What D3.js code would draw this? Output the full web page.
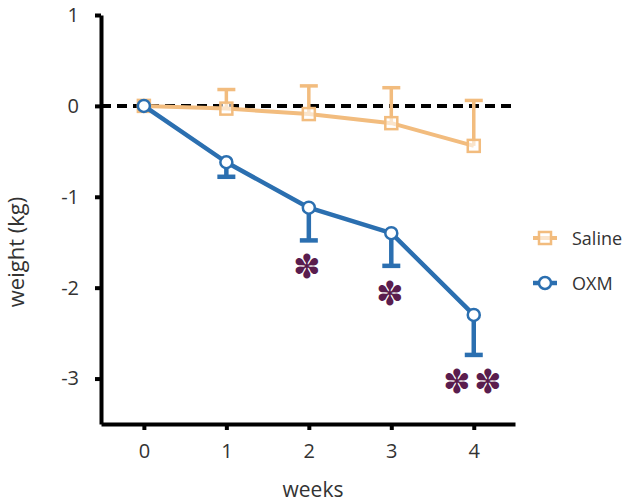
<!DOCTYPE html>
<html>
<head>
<meta charset="utf-8">
<script src="https://cdn.jsdelivr.net/npm/d3@7"></script>
<style>
  body { margin: 0; background: #fff; }
  text { font-family: "Open Sans", Lato, sans-serif; fill: #333; }
</style>
</head>
<body>
<div id="chart"></div>
<script>
  var weeks = [0, 1, 2, 3, 4];
  var salineMean = [0, -0.03, -0.09, -0.19, -0.44];
  var salineErr = [0, 0.21, 0.31, 0.39, 0.50];
  var oxmMean = [0, -0.62, -1.12, -1.40, -2.30];
  var oxmErr = [0, 0.16, 0.36, 0.36, 0.44];
  var yTicks = [1, 0, -1, -2, -3];
  var stars = [[2, '✽'], [3, '✽'], [4, '✽✽']];
  var starY = [-1.89, -2.19, -3.16];

  var width = 630, height = 503;
  var salineColor = '#f2bc7e', oxmColor = '#2b6fb0', starColor = '#5a1d4e';

  var x = d3.scaleLinear().domain([-0.52, 4.5]).range([101, 515]);
  var y = d3.scaleLinear().domain([-3.5, 1]).range([424, 15]);
  var fmt = function(d) { return String(d); };

  var svg = d3.select('#chart').append('svg').attr('width', width).attr('height', height);

  // dashed zero line
  svg.append('line').attr('x1', x(-0.52)).attr('x2', x(4.5)).attr('y1', y(0)).attr('y2', y(0))
    .attr('stroke', '#000').attr('stroke-width', 4).attr('stroke-dasharray', '10,6');

  // axes
  svg.append('g').attr('transform', 'translate(' + x(-0.52) + ',0)')
    .call(d3.axisLeft(y).tickValues(yTicks).tickSize(6).tickSizeOuter(0).tickPadding(16).tickFormat(fmt));
  svg.append('g').attr('transform', 'translate(0,' + y(-3.5) + ')')
    .call(d3.axisBottom(x).tickValues(weeks).tickSize(6).tickSizeOuter(0).tickPadding(14).tickFormat(fmt));
  svg.selectAll('.domain, .tick line').attr('stroke', '#000').attr('stroke-width', 4);
  svg.selectAll('.tick text').attr('font-size', 20).attr('font-family', '"Open Sans", sans-serif').attr('fill', '#333');

  svg.append('text').attr('x', 313).attr('y', 497).attr('text-anchor', 'middle').attr('font-size', 21).text('weeks');
  svg.append('text').attr('transform', 'translate(24,252) rotate(-90)').attr('text-anchor', 'middle')
    .attr('font-size', 22).text('weight (kg)');

  var line = d3.line().x(function(d, i) { return x(weeks[i]); }).y(function(d) { return y(d); });

  // saline
  var sal = svg.append('g');
  sal.selectAll('g.err').data(salineMean).enter().append('g').each(function(d, i) {
      if (!salineErr[i]) return;
      var g = d3.select(this), cx = x(weeks[i]), top = y(d + salineErr[i]);
      g.append('line').attr('x1', cx).attr('x2', cx).attr('y1', y(d)).attr('y2', top);
      g.append('line').attr('x1', cx - 9).attr('x2', cx + 9).attr('y1', top).attr('y2', top);
    }).attr('stroke', salineColor).attr('stroke-width', 3.5);
  sal.append('path').datum(salineMean).attr('d', line).attr('fill', 'none')
    .attr('stroke', salineColor).attr('stroke-width', 4).attr('stroke-linejoin', 'round');
  sal.selectAll('rect').data(salineMean).enter().append('rect')
    .attr('x', function(d, i) { return x(weeks[i]) - 6; }).attr('y', function(d) { return y(d) - 6; })
    .attr('width', 12).attr('height', 12).attr('fill', '#fff').attr('fill-opacity', 0.6)
    .attr('stroke', salineColor).attr('stroke-width', 2.5);

  // oxm
  var oxm = svg.append('g');
  oxm.selectAll('g.err').data(oxmMean).enter().append('g').each(function(d, i) {
      if (!oxmErr[i]) return;
      var g = d3.select(this), cx = x(weeks[i]), bot = y(d - oxmErr[i]);
      g.append('line').attr('x1', cx).attr('x2', cx).attr('y1', y(d)).attr('y2', bot);
      g.append('line').attr('x1', cx - 9).attr('x2', cx + 9).attr('y1', bot).attr('y2', bot);
    }).attr('stroke', oxmColor).attr('stroke-width', 4.5);
  oxm.append('path').datum(oxmMean).attr('d', line).attr('fill', 'none')
    .attr('stroke', oxmColor).attr('stroke-width', 4.5).attr('stroke-linejoin', 'round');
  oxm.selectAll('circle').data(oxmMean).enter().append('circle')
    .attr('cx', function(d, i) { return x(weeks[i]); }).attr('cy', function(d) { return y(d); })
    .attr('r', 6).attr('fill', '#fff').attr('stroke', oxmColor).attr('stroke-width', 2.5);

  // significance stars
  svg.selectAll('text.star').data(stars).enter().append('text').attr('class', 'star')
    .attr('x', function(d) { return x(d[0]); }).attr('y', function(d, i) { return y(starY[i]); })
    .attr('text-anchor', 'middle').attr('font-family', 'DejaVu Sans').attr('font-size', 33)
    .attr('letter-spacing', 3).style('fill', starColor).text(function(d) { return d[1]; });

  // legend
  var legend = svg.append('g').attr('transform', 'translate(545,0)');
  var lg1 = legend.append('g').attr('transform', 'translate(0,238)');
  lg1.append('line').attr('x1', -12).attr('x2', 12).attr('stroke', salineColor).attr('stroke-width', 4);
  lg1.append('rect').attr('x', -6).attr('y', -6).attr('width', 12).attr('height', 12)
    .attr('fill', '#fff').attr('fill-opacity', 0.6).attr('stroke', salineColor).attr('stroke-width', 2.5);
  lg1.append('text').attr('x', 27).attr('y', 7).attr('font-size', 18).text('Saline');
  var lg2 = legend.append('g').attr('transform', 'translate(0,283)');
  lg2.append('line').attr('x1', -12).attr('x2', 12).attr('stroke', oxmColor).attr('stroke-width', 4.5);
  lg2.append('circle').attr('r', 6).attr('fill', '#fff').attr('stroke', oxmColor).attr('stroke-width', 2.5);
  lg2.append('text').attr('x', 27).attr('y', 7).attr('font-size', 18).text('OXM');
</script>
</body>
</html>
